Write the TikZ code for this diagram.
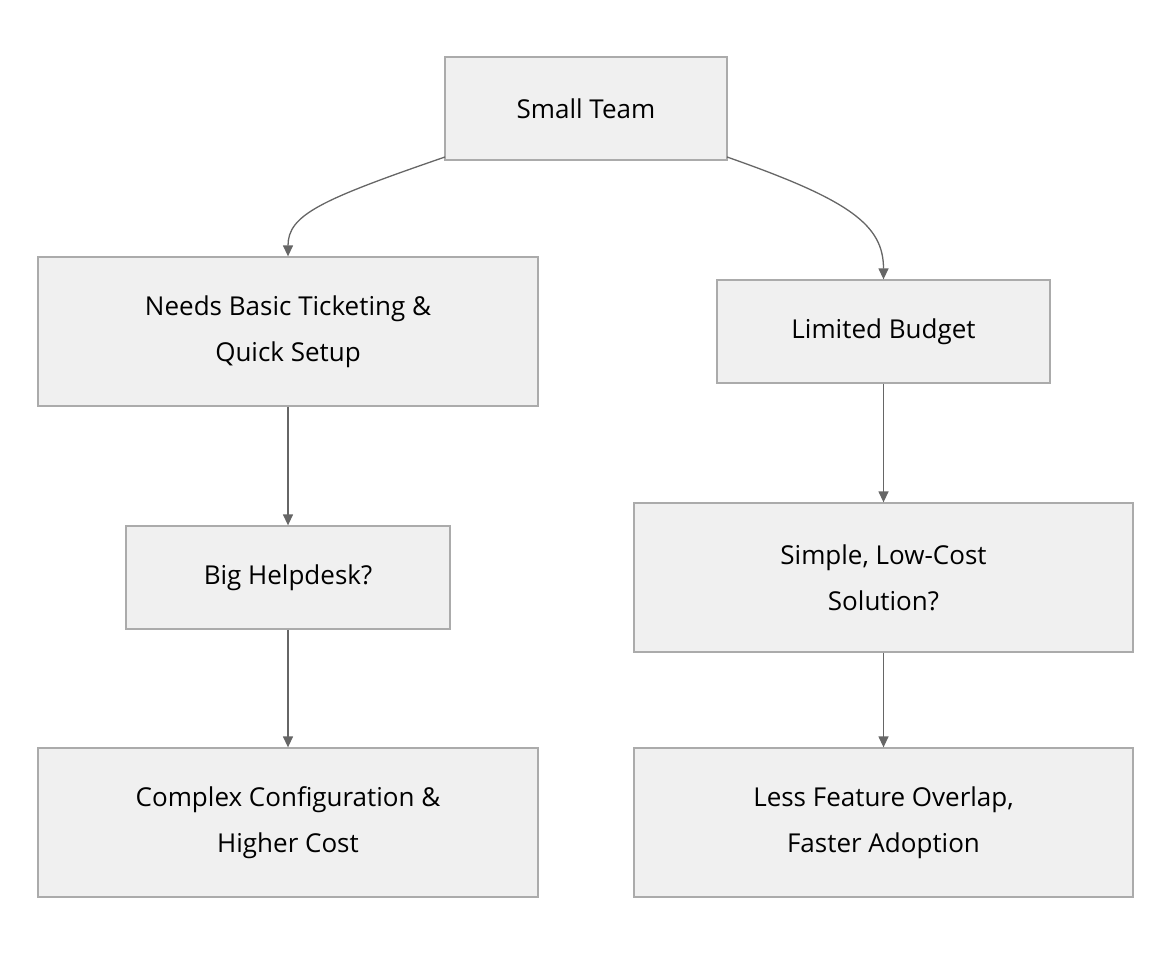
\documentclass[tikz,border=0pt]{standalone}
\usepackage{fontspec}
\setmainfont{Open Sans}
\usetikzlibrary{arrows.meta}
\begin{document}
\begin{tikzpicture}[x=1pt,y=-1pt,
  box/.style={draw=black!33,fill=black!6,line width=1.3pt,inner sep=0pt,align=center,font=\fontsize{26}{46}\selectfont},
  arr/.style={draw=black!60,line width=1.3pt,-{Triangle[length=11pt,width=10pt]}}]
\useasboundingbox (0,0) rectangle (1172,956);
\node[box,minimum width=282,minimum height=103] (st) at (586,108.5) {Small Team};
\node[box,minimum width=500,minimum height=149] (nb) at (288,331.5) {Needs Basic Ticketing \&\\Quick Setup};
\node[box,minimum width=333,minimum height=103] (lb) at (883.5,331.5) {Limited Budget};
\node[box,minimum width=324,minimum height=103] (bh) at (288,577.5) {Big Helpdesk?};
\node[box,minimum width=499,minimum height=149] (sl) at (883.5,577.5) {Simple, Low-Cost\\Solution?};
\node[box,minimum width=500,minimum height=149] (cc) at (288,822.5) {Complex Configuration \&\\Higher Cost};
\node[box,minimum width=499,minimum height=149] (lf) at (883.5,822.5) {Less Feature Overlap,\\Faster Adoption};
\coordinate (a1) at (445,157);
\coordinate (a2) at (727,157);
\draw[arr] (a1) .. controls (320,200) and (288,215) .. (nb.north);
\draw[arr] (a2) .. controls (850,200) and (883.5,225) .. (lb.north);
\draw[arr] (nb) -- (bh);
\draw[arr] (bh) -- (cc);
\draw[arr] (lb) -- (sl);
\draw[arr] (sl) -- (lf);
\end{tikzpicture}
\end{document}
